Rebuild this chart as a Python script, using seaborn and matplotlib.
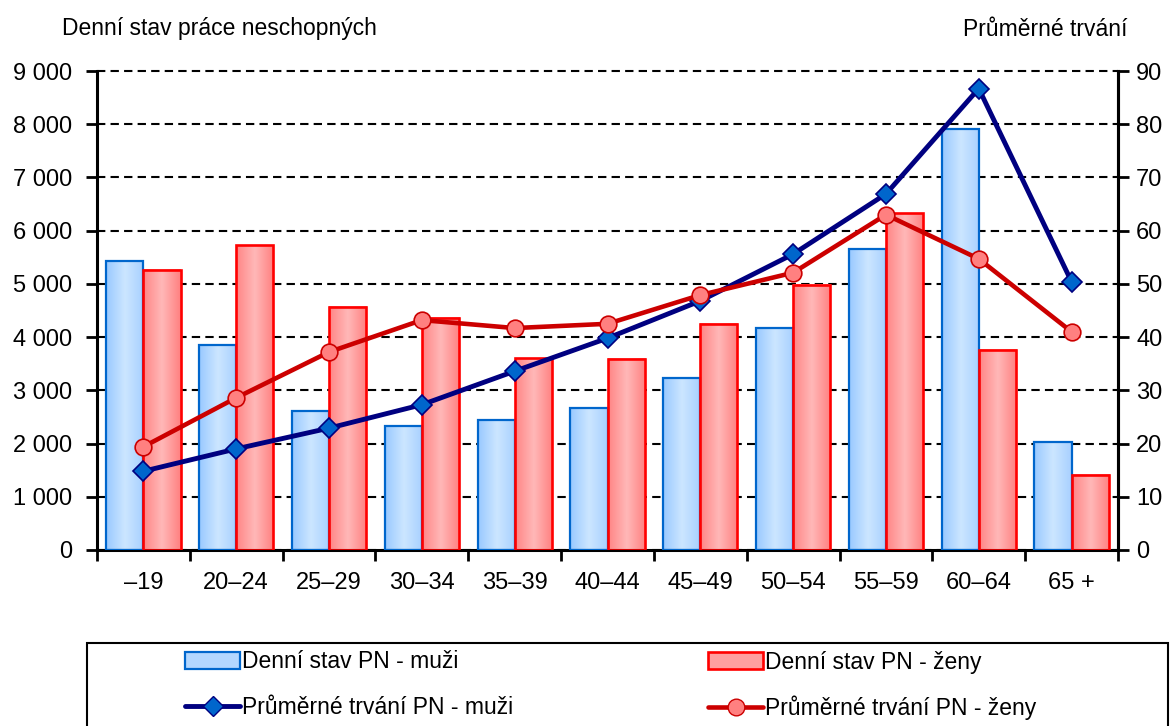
import numpy as np
import pandas as pd
import matplotlib
matplotlib.use("Agg")
import matplotlib.pyplot as plt
import seaborn as sns
from matplotlib.colors import LinearSegmentedColormap
from matplotlib.patches import Patch, Rectangle
from matplotlib.lines import Line2D
from matplotlib.ticker import FuncFormatter, MultipleLocator

sns.set_theme(style="white")
plt.rcParams['font.family'] = ['Liberation Sans', 'DejaVu Sans']
plt.rcParams['text.color'] = 'black'
plt.rcParams['xtick.color'] = 'black'
plt.rcParams['ytick.color'] = 'black'
plt.rcParams['axes.edgecolor'] = 'black'

# Data
categories = ["\u201319", "20\u201324", "25\u201329", "30\u201334", "35\u201339", "40\u201344",
              "45\u201349", "50\u201354", "55\u201359", "60\u201364", "65 +"]
stav_muzi = [5430, 3850, 2610, 2330, 2440, 2670, 3230, 4170, 5660, 7910, 2030]
stav_zeny = [5270, 5730, 4570, 4360, 3600, 3590, 4250, 4980, 6330, 3760, 1410]
trvani_muzi = [14.8, 19.0, 22.9, 27.3, 33.6, 39.8, 46.8, 55.6, 66.9, 86.7, 50.4]
trvani_zeny = [19.4, 28.6, 37.2, 43.2, 41.7, 42.5, 47.9, 52.1, 63.0, 54.7, 41.0]

lab_stav_m = "Denní stav PN - muži"
lab_stav_z = "Denní stav PN - ženy"
lab_trv_m = "Průměrné trvání PN - muži"
lab_trv_z = "Průměrné trvání PN - ženy"

df = pd.DataFrame({
    "vek": categories * 2,
    "stav": stav_muzi + stav_zeny,
    "serie": [lab_stav_m] * len(categories) + [lab_stav_z] * len(categories),
})

fig = plt.figure(figsize=(11.74, 7.26), dpi=100)
ax = fig.add_axes([97 / 1174, 1 - 550 / 726, (1118 - 97) / 1174, (550 - 71) / 726])

sns.barplot(data=df, x="vek", y="stav", hue="serie", order=categories,
            palette=["#B3D7FF", "#FF9F9F"], width=0.8, legend=False, ax=ax,
            saturation=1, zorder=2)

# gradient fills for bars
blue_cmap = LinearSegmentedColormap.from_list("b", ["#99C9FF", "#CCE6FF", "#A8D0FF"])
red_cmap = LinearSegmentedColormap.from_list("r", ["#FF8585", "#FFB8B8", "#FF8080"])
edge_cols = ["#0066CC", "#FF0000"]
edge_w = [1.6, 1.9]
grad = np.linspace(0, 1, 64).reshape(1, -1)
for cont, cmap, ec, lw in zip(ax.containers, [blue_cmap, red_cmap], edge_cols, edge_w):
    for p in cont:
        x0, w, h = p.get_x(), p.get_width(), p.get_height()
        ax.imshow(grad, extent=[x0, x0 + w, 0, h], aspect="auto", cmap=cmap,
                  zorder=2, interpolation="bicubic")
        p.set_facecolor("none")
        p.set_edgecolor(ec)
        p.set_linewidth(lw)
        p.set_zorder(3)

ax.set_xlim(-0.5, len(categories) - 0.5)
ax.set_ylim(0, 9000)
ax.set_xlabel("")
ax.set_ylabel("")
ax.yaxis.set_major_locator(MultipleLocator(1000))
ax.yaxis.set_major_formatter(FuncFormatter(lambda v, p: f"{int(v):,}".replace(",", " ")))
ax.set_axisbelow(True)
ax.grid(axis="y", color="black", linestyle=(0, (4, 2.5)), linewidth=1.5)
ax.grid(axis="x", visible=False)
for gl in ax.get_ygridlines():
    gl.set_clip_on(False)

ax.set_xticks(range(len(categories)))
ax.set_xticklabels(categories)
ax.set_xticks(np.arange(-0.5, len(categories), 1), minor=True)
ax.tick_params(axis="x", which="major", length=0, pad=16, labelsize=17)
ax.tick_params(axis="x", which="minor", length=8, width=2, direction="out",
               bottom=True)
ax.tick_params(axis="y", length=8, width=2, direction="out", left=True, pad=10,
               labelsize=17)

for s in ["left", "bottom", "right"]:
    ax.spines[s].set_linewidth(2.2)
ax.spines["top"].set_visible(False)

# secondary axis
ax2 = ax.twinx()
sns.lineplot(x=np.arange(len(categories)), y=trvani_muzi, ax=ax2, color="#000080",
             linewidth=3.5, marker="D", markersize=10, markerfacecolor="#0066CC",
             markeredgecolor="#000080", markeredgewidth=1.2, zorder=5)
sns.lineplot(x=np.arange(len(categories)), y=trvani_zeny, ax=ax2, color="#CC0000",
             linewidth=3.3, marker="o", markersize=12, markerfacecolor="#FF8080",
             markeredgecolor="#CC0000", markeredgewidth=1.2, zorder=5)
ax2.set_ylim(0, 90)
ax2.yaxis.set_major_locator(MultipleLocator(10))
ax2.tick_params(axis="y", length=8, width=2, direction="out", right=True, pad=5,
                labelsize=17)
ax2.grid(False)
for s in ["left", "bottom", "top"]:
    ax2.spines[s].set_visible(False)
ax2.spines["right"].set_linewidth(2.2)
ax.set_xlim(-0.5, len(categories) - 0.5)

# axis titles
fig.text(62 / 1174, 1 - 29 / 726, "Denní stav práce neschopných", fontsize=16.5,
         ha="left", va="center")
fig.text(1127 / 1174, 1 - 29 / 726, "Průměrné trvání", fontsize=16.5,
         ha="right", va="center")

# legend frame
fig.patches.append(Rectangle((87 / 1174, -0.05), (1168 - 87) / 1174, 0.05 + 83 / 726,
                             transform=fig.transFigure, fill=False, edgecolor="black",
                             linewidth=1.5, clip_on=False))

h_bm = Patch(facecolor="#B3D7FF", edgecolor="#0066CC", linewidth=1.6)
h_bz = Patch(facecolor="#FF9F9F", edgecolor="#FF0000", linewidth=1.9)
h_lm = Line2D([], [], color="#000080", linewidth=3.5, marker="D", markersize=10,
              markerfacecolor="#0066CC", markeredgecolor="#000080")
h_lz = Line2D([], [], color="#CC0000", linewidth=3.3, marker="o", markersize=12,
              markerfacecolor="#FF8080", markeredgecolor="#CC0000")

leg_kw = dict(loc="center left", frameon=False, fontsize=16.5, handlelength=2.4,
              handleheight=0.7, handletextpad=0.1, borderpad=0, borderaxespad=0)
for h, lab, x, y in [(h_bm, lab_stav_m, 185, 662), (h_lm, lab_trv_m, 185, 708),
                     (h_bz, lab_stav_z, 708, 662), (h_lz, lab_trv_z, 708, 708)]:
    fig.legend([h], [lab], bbox_to_anchor=(x / 1174, 1 - y / 726), **leg_kw)

fig.savefig("out.png", dpi=100)
